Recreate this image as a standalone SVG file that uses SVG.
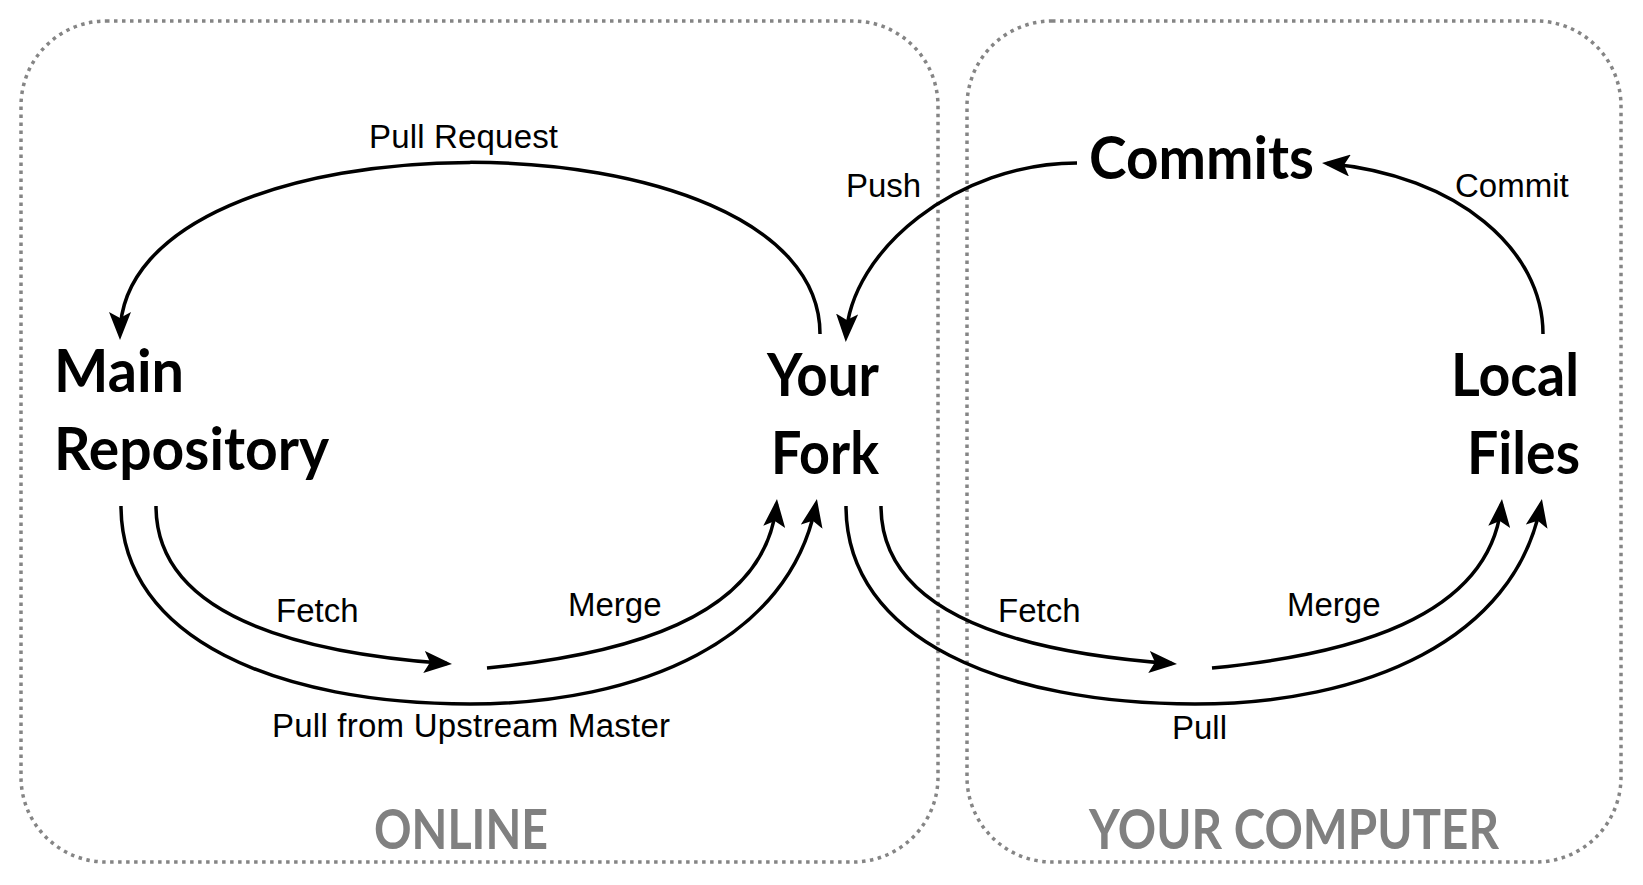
<svg xmlns="http://www.w3.org/2000/svg" width="1643" height="885" viewBox="0 0 1643 885">
<style>
.box{fill:none;stroke:#858585;stroke-width:3.5;stroke-dasharray:3.5 4.5}
.node{font-family:Lato,"Open Sans",sans-serif;font-weight:700;font-size:60px;fill:#000}
.zone{font-family:Lato,"Open Sans",sans-serif;font-weight:700;font-size:55px;fill:#808080}
.lbl{font-family:"Liberation Sans",Arial,sans-serif;font-size:33px;fill:#000}
.edge{fill:none;stroke:#000;stroke-width:3.5}
</style>
<defs>
<marker id="arr" viewBox="0 0 28 22" refX="23" refY="11" markerWidth="28" markerHeight="22" markerUnits="userSpaceOnUse" orient="auto">
<path d="M0,0 L28,11 L0,22 L6,11 z" fill="#000"/>
</marker>
</defs>
<rect width="1643" height="885" fill="#fff"/>
<g id="online">
<rect class="box" x="21" y="21" width="917" height="841" rx="85" ry="85"/>
<text class="zone" x="374" y="849" textLength="174" lengthAdjust="spacingAndGlyphs">ONLINE</text>
</g>
<g id="your-computer">
<rect class="box" x="967" y="21" width="654" height="841" rx="85" ry="85"/>
<text class="zone" x="1089" y="849" textLength="410" lengthAdjust="spacingAndGlyphs">YOUR COMPUTER</text>
</g>
<g id="main-repository">
<text class="node" x="54" y="392" textLength="130" lengthAdjust="spacingAndGlyphs">Main</text>
<text class="node" x="54" y="470" textLength="275" lengthAdjust="spacingAndGlyphs">Repository</text>
</g>
<g id="your-fork">
<text class="node" x="767" y="396" textLength="112" lengthAdjust="spacingAndGlyphs">Your</text>
<text class="node" x="771" y="474" textLength="108" lengthAdjust="spacingAndGlyphs">Fork</text>
</g>
<g id="commits">
<text class="node" x="1089" y="179" textLength="225" lengthAdjust="spacingAndGlyphs">Commits</text>
</g>
<g id="local-files">
<text class="node" x="1451" y="396" textLength="128" lengthAdjust="spacingAndGlyphs">Local</text>
<text class="node" x="1467" y="474" textLength="113" lengthAdjust="spacingAndGlyphs">Files</text>
</g>
<g id="connectors">
<path class="edge" marker-end="url(#arr)" d="M820 334 C820 105 120 105 120 335"/>
<path class="edge" marker-end="url(#arr)" d="M1077 163 C958 163 850 250 846 337"/>
<path class="edge" marker-end="url(#arr)" d="M1543 334 C1543 250 1458 175 1327 163.5"/>
<path class="edge" marker-end="url(#arr)" d="M156 506 C156 600 260 650 447 663.6"/>
<path class="edge" marker-end="url(#arr)" d="M487 668 C620 655 765 620 776.5 504"/>
<path class="edge" marker-end="url(#arr)" d="M121 506 C121 640 280 704 470 704 C640 704 790 640 816 504"/>
<path class="edge" marker-end="url(#arr)" d="M881 506 C881 600 985 650 1172 663.6"/>
<path class="edge" marker-end="url(#arr)" d="M1212 668 C1345 655 1490 620 1501.5 504"/>
<path class="edge" marker-end="url(#arr)" d="M846 506 C846 640 1005 704 1195 704 C1365 704 1515 640 1541 504"/>
<text class="lbl" x="369" y="148" textLength="189">Pull Request</text>
<text class="lbl" x="846" y="197">Push</text>
<text class="lbl" x="1455" y="197">Commit</text>
<text class="lbl" x="276" y="622">Fetch</text>
<text class="lbl" x="568" y="616">Merge</text>
<text class="lbl" x="272" y="737" textLength="398">Pull from Upstream Master</text>
<text class="lbl" x="998" y="622">Fetch</text>
<text class="lbl" x="1287" y="616">Merge</text>
<text class="lbl" x="1172" y="739">Pull</text>
</g>
</svg>
